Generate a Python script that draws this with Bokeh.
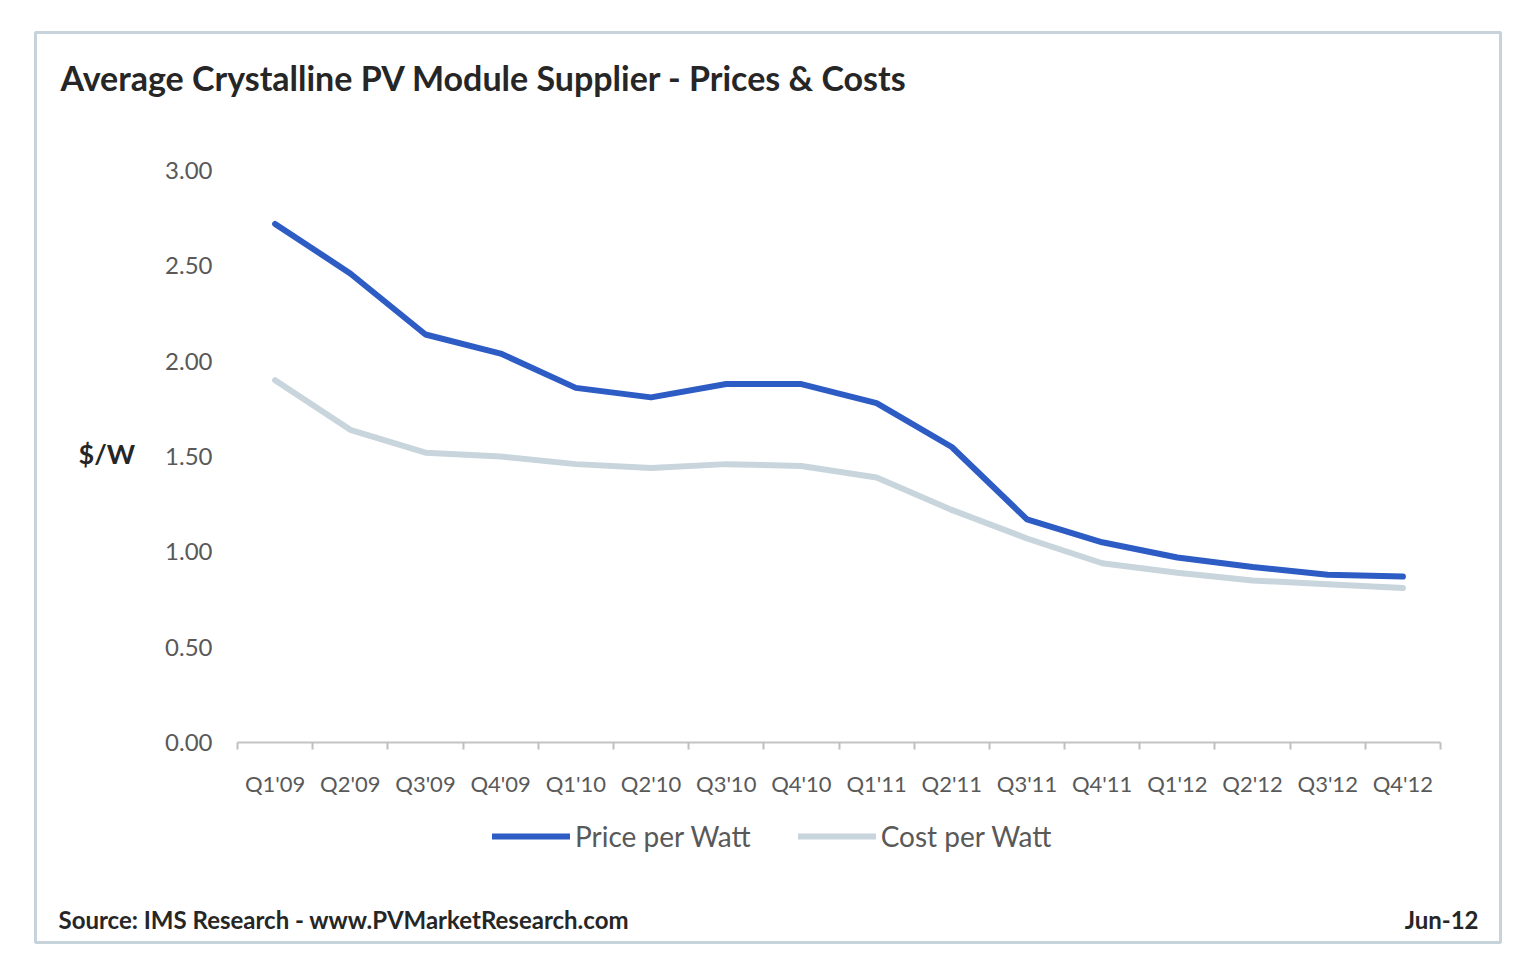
from bokeh.plotting import figure
from bokeh.models import (Range1d, FixedTicker, Label, Legend, LegendItem, BoxAnnotation)
from bokeh.embed import file_html
from bokeh.resources import INLINE

# ---- data ----
quarters = ["Q1'09", "Q2'09", "Q3'09", "Q4'09", "Q1'10", "Q2'10", "Q3'10", "Q4'10",
            "Q1'11", "Q2'11", "Q3'11", "Q4'11", "Q1'12", "Q2'12", "Q3'12", "Q4'12"]
price_per_watt = [2.72, 2.46, 2.14, 2.04, 1.86, 1.81, 1.88, 1.88,
                  1.78, 1.55, 1.17, 1.05, 0.97, 0.92, 0.88, 0.87]
cost_per_watt = [1.90, 1.64, 1.52, 1.50, 1.46, 1.44, 1.46, 1.45,
                 1.39, 1.22, 1.07, 0.94, 0.89, 0.85, 0.83, 0.81]
y_ticks = [0.0, 0.5, 1.0, 1.5, 2.0, 2.5, 3.0]

FONT = "Lato"
TXT = "#595959"
DARK = "#262626"
PRICE_C = "#2d5cc4"
COST_C = "#c8d5dc"

W, H = 1523, 961
BOX_L, BOX_T, BOX_R, BOX_B = 35, 32, 1500, 942
AX_L, AX_R, AX_Y0, AX_Y3 = 237, 1440, 742, 170

n = len(quarters)
xpx = (AX_R - AX_L) / n
ypx = (AX_Y0 - AX_Y3) / 3.0

x_range = Range1d((BOX_L - AX_L) / xpx, (BOX_R - AX_L) / xpx)
y_range = Range1d((AX_Y0 - BOX_B) / ypx, (AX_Y0 - BOX_T) / ypx)

p = figure(width=W, height=H, x_range=x_range, y_range=y_range,
           output_backend="svg", toolbar_location=None,
           min_border_left=BOX_L, min_border_right=W - BOX_R,
           min_border_top=BOX_T, min_border_bottom=H - BOX_B)
p.background_fill_color = "white"
p.border_fill_color = "white"
p.outline_line_color = "#c6d3db"
p.outline_line_width = 3
p.xgrid.visible = False
p.ygrid.visible = False

xs = [i + 0.5 for i in range(n)]

r_price = p.line(xs, price_per_watt, line_width=6, line_color=PRICE_C,
                 line_join="round", line_cap="round")
r_cost = p.line(xs, cost_per_watt, line_width=6, line_color=COST_C,
                line_join="round", line_cap="round")
p.renderers = [r_cost, r_price]

# x axis
xa = p.xaxis[0]
xa.fixed_location = 0
xa.bounds = (0, n)
xa.ticker = FixedTicker(ticks=xs, minor_ticks=list(range(n + 1)))
xa.major_label_overrides = {x: q for x, q in zip(xs, quarters)}
xa.major_tick_line_color = None
xa.major_tick_in = 0
xa.major_tick_out = 0
xa.minor_tick_in = 0
xa.minor_tick_out = 7
xa.minor_tick_line_color = "#bfbfbf"
xa.minor_tick_line_width = 2
xa.axis_line_color = "#c4c4c4"
xa.axis_line_width = 2
xa.major_label_standoff = 20
xa.major_label_text_font = FONT
xa.major_label_text_font_size = "22px"
xa.major_label_text_color = TXT

# y axis
ya = p.yaxis[0]
ya.fixed_location = 0
ya.ticker = FixedTicker(ticks=y_ticks)
ya.major_label_overrides = {t: f"{t:.2f}" for t in y_ticks}
ya.axis_line_color = None
ya.major_tick_line_color = None
ya.minor_tick_line_color = None
ya.major_tick_in = 0
ya.major_tick_out = 0
ya.major_label_standoff = 25
ya.major_label_text_font = FONT
ya.major_label_text_font_size = "24px"
ya.major_label_text_color = TXT

# faint outer frame of the picture
p.add_layout(BoxAnnotation(left=10 - BOX_L, right=1521 - BOX_L, top=BOX_B - 6, bottom=-40,
                           left_units="screen", right_units="screen",
                           top_units="screen", bottom_units="screen",
                           fill_alpha=0, line_color="#d4d4d4", line_width=2))

# texts (screen units relative to the plot frame's bottom-left)
p.add_layout(Label(x=60 - BOX_L, y=BOX_B - 77, x_units="screen", y_units="screen",
                   text="Average Crystalline PV Module Supplier - Prices & Costs",
                   text_font=FONT, text_font_size="34px", text_font_style="bold",
                   text_color=DARK, text_baseline="middle"))
p.add_layout(Label(x=78 - BOX_L, y=BOX_B - 453, x_units="screen", y_units="screen",
                   text="$/W", text_font=FONT, text_font_size="27px",
                   text_font_style="bold", text_color=DARK, text_baseline="middle"))
p.add_layout(Label(x=58 - BOX_L, y=BOX_B - 919, x_units="screen", y_units="screen",
                   text="Source: IMS Research - www.PVMarketResearch.com",
                   text_font=FONT, text_font_size="24px", text_font_style="bold",
                   text_color=DARK, text_baseline="middle"))
p.add_layout(Label(x=1478 - BOX_L, y=BOX_B - 919, x_units="screen", y_units="screen",
                   text="Jun-12", text_font=FONT, text_font_size="24px",
                   text_font_style="bold", text_color=DARK, text_baseline="middle",
                   text_align="right"))

legend = Legend(items=[LegendItem(label="Price per Watt", renderers=[r_price]),
                       LegendItem(label="Cost per Watt", renderers=[r_cost])],
                orientation="horizontal", location=(492 - BOX_L, BOX_B - 853),
                border_line_color=None, background_fill_alpha=0,
                padding=0, margin=0, spacing=47, label_standoff=5,
                glyph_width=78, glyph_height=34, label_height=34,
                label_text_font=FONT, label_text_font_size="28px",
                label_text_color=TXT)
p.add_layout(legend)

open("out.html", "w").write(file_html(p, INLINE))
